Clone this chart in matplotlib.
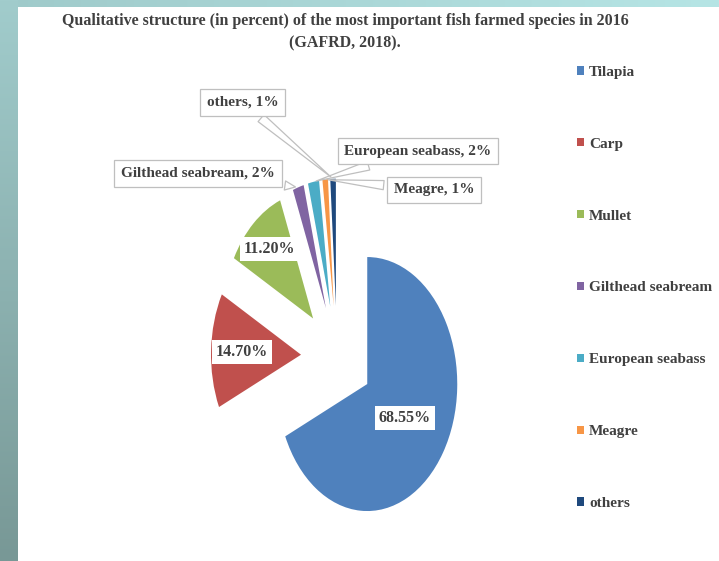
#** Pie chart: fish farmed species 2016 (GAFRD, 2018) **
import numpy as np
import matplotlib.pyplot as plt

#** Data **
species = ['Tilapia', 'Carp', 'Mullet', 'Gilthead seabream',
           'European seabass', 'Meagre', 'others']
percent = [68.55, 14.70, 11.20, 2, 2, 1, 1]
colors = ['#4F81BD', '#C0504D', '#9BBB59', '#8064A2',
          '#4BACC6', '#F79646', '#1F497D']
title = ('Qualitative structure (in percent) of the most important fish farmed species in 2016\n'
         '(GAFRD, 2018).')

txt_color = '#404040'
font = 'Liberation Serif'
W, H = 719, 561

fig = plt.figure(figsize=(W / 100, H / 100), dpi=100)
fig.patch.set_facecolor('white')

#** Frame bars (teal gradient) **
top = fig.add_axes([0, 1 - 7 / H, 1, 7 / H])
top.imshow(np.linspace(0, 1, 256).reshape(1, -1), aspect='auto',
           cmap=plt.matplotlib.colors.LinearSegmentedColormap.from_list('t', ['#9fcaca', '#b6e5e5']))
top.axis('off')
left = fig.add_axes([0, 0, 18 / W, 1])
left.imshow(np.linspace(0, 1, 256).reshape(-1, 1), aspect='auto',
            cmap=plt.matplotlib.colors.LinearSegmentedColormap.from_list('l', ['#a1cccc', '#789896']))
left.axis('off')

#** Pie **
cx, cy = 337, 356.5      # pie centre in pixels (from top)
rx, ry = 90, 127         # radius in pixels (picture is squeezed)
ax = fig.add_axes([(cx - 2 * rx) / W, (H - cy - 1.6 * ry) / H, 4 * rx / W, 3.2 * ry / H])
wedges, _ = ax.pie(percent, explode=[0.4] * len(percent), colors=colors,
                   startangle=90, counterclock=False, radius=1,
                   wedgeprops=dict(linewidth=0))
ax.set_aspect('auto')
ax.set_xlim(-2, 2)
ax.set_ylim(-1.6, 1.6)
ax.axis('off')

def ponto(w, d):
    a = np.deg2rad((w.theta1 + w.theta2) / 2)
    return w.center[0] + d * np.cos(a), w.center[1] + d * np.sin(a)

# inner labels for the big slices
dist = [0.5, 0.66, 0.73]
for i in range(3):
    x, y = ponto(wedges[i], dist[i])
    ax.text(x, y, '%.2f%%' % percent[i], ha='center', va='center',
            family=font, weight='bold', fontsize=11.5, color=txt_color,
            bbox=dict(boxstyle='square,pad=0.25', fc='white', ec='none'))

# callouts for the small slices (box centre in pixels from top)
callout = {3: (198, 173.5), 4: (418, 151), 5: (434, 190), 6: (242.5, 102.5)}
for i, (px, py) in callout.items():
    ax.annotate('%s, %d%%' % (species[i], percent[i]), xy=ponto(wedges[i], 1.0),
                xytext=(px, H - py), textcoords='figure pixels',
                ha='center', va='center', family=font, weight='bold',
                fontsize=11, color=txt_color,
                bbox=dict(boxstyle='square,pad=0.45', fc='white', ec='#bfbfbf', lw=0.9),
                arrowprops=dict(arrowstyle='wedge,tail_width=0.6', fc='white',
                                ec='#bfbfbf', lw=0.9))

#** Title **
fig.text(345 / W, 1 - 32.5 / H, title, ha='center', va='center', family=font,
         weight='bold', fontsize=11.5, color=txt_color, linespacing=1.55)

#** Legend **
leg = fig.legend(wedges, species, loc='upper left', bbox_to_anchor=(577 / W, 1 - 66 / H),
                 frameon=False, borderpad=0, borderaxespad=0, handlelength=0.45,
                 handleheight=0.45, handletextpad=0.35, labelspacing=3.85,
                 prop=dict(family=font, weight='bold', size=11))
for t in leg.get_texts():
    t.set_color(txt_color)

fig.savefig('out.png', dpi=100)
